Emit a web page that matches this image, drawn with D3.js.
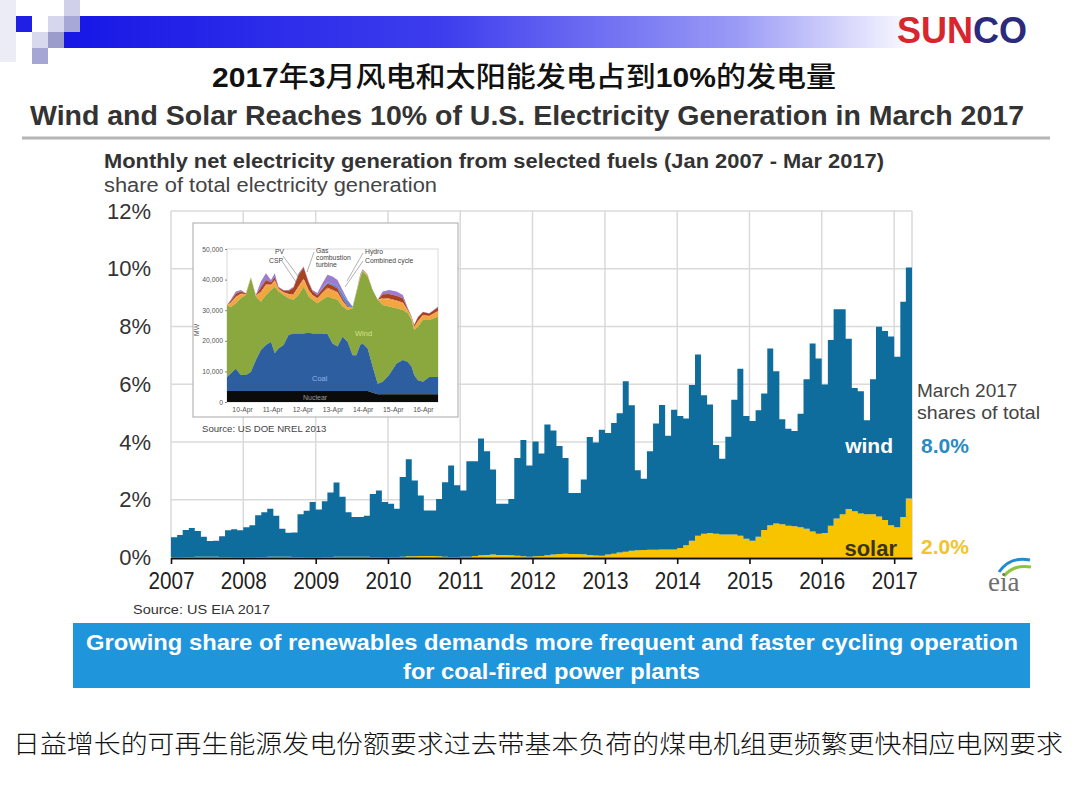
<!DOCTYPE html>
<html><head><meta charset="utf-8">
<script src="https://cdn.jsdelivr.net/npm/d3@7"></script>
<style>body{margin:0;background:#fff}svg{display:block}</style>
</head><body><svg id="c" width="1080" height="810"></svg>
<script>
// ---------------- main chart data (share of total generation, %) ----------------
const startYear = 2007;
const yearTicks = [2007,2008,2009,2010,2011,2012,2013,2014,2015,2016,2017];
const yTicks = [0,2,4,6,8,10,12];
// monthly wind share, Jan 2007 - Mar 2017
const windShare = [
 0.69,0.77,0.93,1.00,0.89,0.69,0.54,0.55,0.72,0.92,0.97,0.93,
 1.04,1.11,1.44,1.55,1.66,1.42,0.97,0.83,0.85,1.48,1.61,1.91,
 1.65,1.93,2.23,2.57,2.07,1.54,1.37,1.37,1.42,2.18,2.30,1.91,
 1.84,1.67,2.76,3.36,2.63,2.10,1.58,1.58,1.99,2.58,3.17,2.48,
 2.29,3.30,3.28,4.04,3.59,2.95,1.77,1.77,1.95,3.39,4.03,3.16,
 3.98,3.55,4.53,4.30,3.74,3.32,2.11,2.11,2.59,4.08,3.91,4.36,
 4.21,4.53,4.83,5.90,5.04,2.77,2.47,3.41,4.37,5.00,3.94,4.84,
 4.57,4.39,5.39,6.28,4.80,4.45,3.08,2.62,3.38,4.66,5.79,4.25,
 4.15,4.38,4.73,6.12,5.27,3.64,3.36,3.30,3.93,5.17,6.51,6.07,
 5.14,6.43,7.25,7.10,5.90,4.27,4.24,3.25,4.67,6.57,6.54,6.53,
 5.90,7.46,8.00];
// monthly solar share, Jan 2007 - Mar 2017
const solarShare = [
 0.01,0.01,0.02,0.02,0.03,0.03,0.03,0.03,0.02,0.02,0.01,0.01,
 0.01,0.01,0.02,0.02,0.03,0.03,0.03,0.03,0.02,0.02,0.01,0.01,
 0.01,0.02,0.02,0.03,0.03,0.03,0.03,0.03,0.03,0.02,0.02,0.01,
 0.02,0.02,0.03,0.04,0.04,0.05,0.05,0.05,0.04,0.03,0.02,0.02,
 0.03,0.03,0.05,0.08,0.09,0.10,0.09,0.09,0.08,0.06,0.04,0.03,
 0.04,0.05,0.08,0.10,0.12,0.13,0.12,0.12,0.11,0.09,0.07,0.06,
 0.10,0.13,0.17,0.20,0.23,0.25,0.26,0.27,0.27,0.28,0.28,0.28,
 0.33,0.42,0.58,0.75,0.82,0.85,0.82,0.80,0.80,0.80,0.75,0.65,
 0.58,0.72,0.95,1.12,1.18,1.15,1.10,1.08,1.05,1.00,0.90,0.82,
 0.85,1.10,1.35,1.50,1.68,1.60,1.52,1.50,1.50,1.42,1.30,1.12,
 1.05,1.40,2.04];
const marchLabels = {wind:"8.0%", solar:"2.0%"};

// ---------------- inset chart data (MW, thousands) ----------------
const insetDays = ["10-Apr","11-Apr","12-Apr","13-Apr","14-Apr","15-Apr","16-Apr"];
const insetYTicks = [0,10,20,30,40,50];
const insetHours = [0,3,7,11,15,19,23,27,31,35,38,41,45,49,53,57,61,65,68,72,76,80,84,88,92,96,100,103,106,108,112,116,120,124,129,135,140,144,147,149,152,156,161,168];
const insetNuclear = [3.6,3.6,3.6,3.6,3.6,3.6,3.6,3.6,3.6,3.6,3.6,3.6,3.6,3.6,3.6,3.6,3.6,3.6,3.6,3.6,3.6,3.6,3.6,3.6,3.6,3.6,3.6,3.6,3.6,3.6,3.6,3.0,2.5,2.5,2.5,2.5,2.5,2.5,2.5,2.5,2.5,2.5,2.5,2.5];
const insetCoalTop = [8.2,9.3,10.9,8.8,8.8,9.8,13.7,17.0,18.6,19.7,15.9,17.5,18.6,21.9,22.4,22.4,22.4,22.6,22.4,22.4,22.4,22.2,19.1,18.1,21.3,19.7,15.3,15.3,18.6,19.1,17.5,11.5,6.0,6.6,8.8,12.6,13.7,13.1,11.5,8.8,7.1,6.6,8.2,8.2];
const insetWindTop = [31.7,31.0,32.3,33.9,35.0,40.5,34.5,32.8,35.0,36.6,37.7,36.1,35.0,33.9,33.4,35.0,37.7,34.5,33.4,32.3,33.4,34.5,33.9,33.4,31.2,30.1,30.6,35.6,40.5,42.7,41.0,36.6,33.4,31.7,31.2,30.6,30.1,29.0,26.8,23.5,24.6,26.8,26.8,27.9];
const insetCsp = [0,1.2,1.8,1.3,0.3,0.2,0.3,2.8,3.0,1.5,1.8,0.8,0.8,1.2,1.6,2.4,2.2,1.8,1.4,1.4,2.0,2.4,2.4,2.2,1.6,0.8,0.2,0.2,0.5,0.3,0.3,0,0,2.0,2.3,2.3,2.1,0.8,0.6,0.9,1.6,1.4,1.2,1.6];
const insetPv = [0,0.2,0.3,0.2,0,0,0,0.4,0.4,0.2,0.3,0.1,0.1,0.2,0.3,0.4,0.4,0.3,0.2,0.2,0.3,0.4,0.4,0.3,0.2,0.1,0,0,0.1,0,0,0,0,0.3,0.3,0.3,0.3,0.1,0.1,0.1,0.2,0.2,0.1,0.2];
const insetGas = [0,0.6,1.0,0.7,0.2,0.1,0.2,1.4,1.5,0.8,1.0,0.4,0.5,1.0,2.0,3.8,3.6,2.4,1.2,1.0,1.2,1.4,1.4,1.2,0.8,0.4,0.1,0.1,0.2,0.2,0.2,0,0,1.2,1.5,1.5,1.4,0.5,0.4,0.7,1.2,1.0,0.8,1.2];
const insetHydro = [0,0,0,0,0,0,0,0,0,0,0,0,0,0,0,0,0,0,0,0,0.2,0.4,0.5,0.8,1.6,1.6,0.3,0.2,0,0,0,0,0,0,0,0,0,0,0,0,0,0,0,0];
const insetCc = [0,0.4,0.7,0.5,0,0,0,2.0,2.2,0.8,1.3,0.3,0.2,0.3,0.4,0.5,0.4,0.4,0.4,0.7,1.7,2.5,2.4,2.0,1.2,0.4,0,0,0.3,0.2,0.1,0,0,0.9,1.3,1.4,1.1,0.2,0,0,0.3,0.1,0.1,0.3];

// ---------------- drawing ----------------
const svg = d3.select("#c");
const defs = svg.append("defs");
const grad = defs.append("linearGradient").attr("id","hdr").attr("x1","0").attr("x2","1").attr("y1","0").attr("y2","0");
[[0,"#1717e6"],[0.45,"#3d3dee"],[0.8,"#9a9af6"],[1,"#f6f6ff"]].forEach(s=>grad.append("stop").attr("offset",s[0]).attr("stop-color",s[1]));

// header decoration
svg.append("rect").attr("x",64).attr("y",16).attr("width",840).attr("height",32).attr("fill","url(#hdr)");
const deco = [[0,0,16,62,"#ececf6"],[16,16,16,16,"#1f1fe6"],[48,16,16,16,"#d6d6ee"],[64,0,16,16,"#d0d0ea"],[64,16,16,16,"#a8a8d8"],[32,32,16,16,"#d8d8ee"],[48,32,16,16,"#9c9ccc"],[32,48,16,16,"#a6a6d4"]];
svg.selectAll("rect.deco").data(deco).enter().append("rect").attr("class","deco")
  .attr("x",d=>d[0]).attr("y",d=>d[1]).attr("width",d=>d[2]).attr("height",d=>d[3]).attr("fill",d=>d[4]);

// SUNCO logo
const logo = svg.append("text").attr("x",897).attr("y",43).attr("font-family","Liberation Sans, Arial, sans-serif")
  .attr("font-weight","bold").attr("font-size",36).attr("textLength",130).attr("lengthAdjust","spacingAndGlyphs");
logo.append("tspan").attr("fill","#d7262d").text("SUN");
logo.append("tspan").attr("fill","#2b2a7c").text("CO");

// titles
const t1 = svg.append("text").attr("x",212).attr("y",87).attr("font-size",28).attr("fill","#111")
  .attr("textLength",624).attr("lengthAdjust","spacingAndGlyphs");
const cjk = "'Noto Sans CJK SC', sans-serif", lat = "'Liberation Sans', Arial, sans-serif";
[["2017",lat,700],["年",cjk,500],["3",lat,700],["月风电和太阳能发电占到",cjk,500],["10%",lat,700],["的发电量",cjk,500]]
  .forEach(p=>t1.append("tspan").attr("font-family",p[1]).attr("font-weight",p[2]).text(p[0]));
svg.append("text").attr("x",30).attr("y",125).attr("font-family",lat).attr("font-weight","bold").attr("font-size",28.5)
  .attr("fill","#333").attr("textLength",994).attr("lengthAdjust","spacingAndGlyphs")
  .text("Wind and Solar Reaches 10% of U.S. Electricity Generation in March 2017");
svg.append("line").attr("x1",22).attr("x2",1050).attr("y1",138).attr("y2",138).attr("stroke","#b5b5b5").attr("stroke-width",3);

svg.append("text").attr("x",104).attr("y",168).attr("font-family",lat).attr("font-weight","bold").attr("font-size",19.5)
  .attr("fill","#333").attr("textLength",780).attr("lengthAdjust","spacingAndGlyphs")
  .text("Monthly net electricity generation from selected fuels (Jan 2007 - Mar 2017)");
svg.append("text").attr("x",104).attr("y",192).attr("font-family",lat).attr("font-size",19.5)
  .attr("fill","#444").attr("textLength",333).attr("lengthAdjust","spacingAndGlyphs")
  .text("share of total electricity generation");

// scales
const x = d3.scaleUtc().domain([Date.UTC(2007,0,1), Date.UTC(2017,3,1)]).range([171, 912]);
const y = d3.scaleLinear().domain([0,12]).range([557.5, 211]);
const yearDates = yearTicks.map(yr=>new Date(Date.UTC(yr,0,1)));

// gridlines
const grid = svg.append("g").attr("stroke","#dadada").attr("stroke-width",1.5);
grid.selectAll("line.h").data(yTicks.filter(v=>v>0)).enter().append("line")
  .attr("x1",x.range()[0]).attr("x2",x.range()[1]).attr("y1",d=>y(d)).attr("y2",d=>y(d));
grid.selectAll("line.v").data(yearDates).enter().append("line")
  .attr("x1",d=>x(d)).attr("x2",d=>x(d)).attr("y1",y(12)).attr("y2",y(0));
grid.append("line").attr("x1",x.range()[1]).attr("x2",x.range()[1]).attr("y1",y(12)).attr("y2",y(0));

// stacked step areas
const rows = windShare.map((w,i)=>({date:new Date(Date.UTC(startYear, i, 1)), solar:solarShare[i], wind:w}));
rows.push({date:new Date(Date.UTC(startYear, windShare.length, 1)), solar:solarShare[solarShare.length-1], wind:windShare[windShare.length-1]});
const stack = d3.stack().keys(["solar","wind"])(rows);
const area = d3.area().curve(d3.curveStepAfter).x(d=>x(d.data.date)).y0(d=>y(d[0])).y1(d=>y(d[1]));
const colors = {wind:"#0f6d9e", solar:"#f8c400"};
svg.append("g").selectAll("path").data(stack).enter().append("path")
  .attr("d",area).attr("fill",d=>colors[d.key]);

// axes
const xAxis = svg.append("g").attr("transform","translate(0,558)")
  .call(d3.axisBottom(x).tickValues(yearDates).tickFormat(d3.utcFormat("%Y")).tickSize(6).tickSizeOuter(0).tickPadding(9));
xAxis.select(".domain").attr("stroke","#111").attr("stroke-width",2);
xAxis.selectAll(".tick line").attr("stroke","#111").attr("stroke-width",1.6);
xAxis.selectAll(".tick text").attr("font-family",lat).attr("font-size",23).attr("fill","#222")
  .attr("textLength",46).attr("lengthAdjust","spacingAndGlyphs");

const yAxis = svg.append("g").attr("transform","translate(151,0)")
  .call(d3.axisLeft(y).tickValues(yTicks).tickFormat(d=>d+"%").tickSize(0).tickPadding(0));
yAxis.select(".domain").remove();
yAxis.selectAll(".tick text").attr("font-family",lat).attr("font-size",22).attr("fill","#333");

// in-chart labels
svg.append("text").attr("x",893).attr("y",453).attr("text-anchor","end").attr("font-family",lat).attr("font-weight","bold")
  .attr("font-size",21).attr("fill","#fff").text("wind");
svg.append("text").attr("x",897).attr("y",556).attr("text-anchor","end").attr("font-family",lat).attr("font-weight","bold")
  .attr("font-size",22).attr("fill","#3b3410").text("solar");
svg.append("text").attr("x",917).attr("y",397).attr("font-family",lat).attr("font-size",19).attr("fill","#444").text("March 2017");
svg.append("text").attr("x",917).attr("y",419).attr("font-family",lat).attr("font-size",19).attr("fill","#444")
  .attr("textLength",123).attr("lengthAdjust","spacingAndGlyphs").text("shares of total");
svg.append("text").attr("x",921).attr("y",453).attr("font-family",lat).attr("font-weight","bold").attr("font-size",21)
  .attr("fill","#2c8ac2").text(marchLabels.wind);
svg.append("text").attr("x",921).attr("y",554).attr("font-family",lat).attr("font-weight","bold").attr("font-size",21)
  .attr("fill","#f2c42b").text(marchLabels.solar);

// eia logo
const eia = svg.append("g");
eia.append("path").attr("d","M999,572 Q1010,556 1030,560").attr("fill","none").attr("stroke","#1e8ecf").attr("stroke-width",3);
eia.append("path").attr("d","M1004,576 Q1014,564 1031,567").attr("fill","none").attr("stroke","#8cc63f").attr("stroke-width",3);
eia.append("text").attr("x",988).attr("y",591).attr("font-family","'Liberation Serif', serif").attr("font-size",27)
  .attr("fill","#6f6f6f").text("eia");

svg.append("text").attr("x",133).attr("y",614).attr("font-family",lat).attr("font-size",13).attr("fill","#333")
  .attr("textLength",137).attr("lengthAdjust","spacingAndGlyphs").text("Source: US EIA  2017");

// ---------------- inset ----------------
const ins = svg.append("g");
ins.append("rect").attr("x",193).attr("y",223).attr("width",265).attr("height",194).attr("fill","#fff").attr("stroke","#a8a8a8").attr("stroke-width",1);
const xi = d3.scaleLinear().domain([0,168]).range([227,438]);
const yi = d3.scaleLinear().domain([0,50]).range([402,249]);
ins.append("rect").attr("x",227).attr("y",249).attr("width",211).attr("height",153).attr("fill","none").attr("stroke","#cfcfcf").attr("stroke-width",0.8);
const irows = insetHours.map((h,i)=>({h, nuc:insetNuclear[i], coal:insetCoalTop[i], wind:insetWindTop[i],
  csp:insetCsp[i], pv:insetPv[i], gas:insetGas[i], hydro:insetHydro[i], cc:insetCc[i]}));
const iarea = (f0,f1)=>d3.area().x(d=>xi(d.h)).y0(d=>yi(f0(d))).y1(d=>yi(f1(d)));
const extraKeys = ["csp","pv","gas","hydro","cc"];
const extraCol = {csp:"#f3a53e", pv:"#e4794a", gas:"#a8431f", hydro:"#5b86d6", cc:"#9b7ccf"};
// cumulative stacking on top of wind
irows.forEach(r=>{let b=r.wind; extraKeys.forEach(k=>{r[k+"0"]=b; b+=r[k]; r[k+"1"]=b;});});
extraKeys.slice().reverse().forEach(k=>{
  ins.append("path").datum(irows).attr("fill",extraCol[k]).attr("d",iarea(d=>d[k+"0"],d=>d[k+"1"]));
});
ins.append("path").datum(irows).attr("fill","#8aa83e").attr("d",iarea(d=>d.coal,d=>d.wind));
ins.append("path").datum(irows).attr("fill","#2d5e9f").attr("d",iarea(d=>d.nuc,d=>d.coal));
ins.append("path").datum(irows).attr("fill","#0b0b0b").attr("d",iarea(d=>0,d=>d.nuc));

const iy = ins.append("g").attr("transform","translate(227,0)")
  .call(d3.axisLeft(yi).tickValues(insetYTicks).tickFormat(d=>d3.format(",")(d*1000)).tickSize(2).tickPadding(2));
iy.select(".domain").remove();
iy.selectAll(".tick line").attr("stroke","#888");
iy.selectAll(".tick text").attr("font-family",lat).attr("font-size",6.8).attr("fill","#555");
const ix = ins.append("g").attr("transform","translate(0,403)")
  .call(d3.axisBottom(xi).tickValues(insetDays.map((d,i)=>12+24*i)).tickFormat((d,i)=>insetDays[i]).tickSize(0).tickPadding(4));
ix.select(".domain").remove();
ix.selectAll(".tick text").attr("font-family",lat).attr("font-size",6.8).attr("fill","#555");
ins.append("text").attr("transform","translate(199,330) rotate(-90)").attr("text-anchor","middle")
  .attr("font-family",lat).attr("font-size",6.8).attr("fill","#555").text("MW");

const lab = (tx,ty,s,c,sz)=>ins.append("text").attr("x",tx).attr("y",ty).attr("font-family",lat).attr("font-size",sz||6.8).attr("fill",c||"#444").text(s);
lab(275,254,"PV"); lab(269,263,"CSP"); lab(316,253,"Gas"); lab(316,260,"combustion"); lab(316,267,"turbine");
lab(365,254,"Hydro"); lab(365,263,"Combined cycle");
lab(355,336,"Wind","#cfe08a",7.5); lab(312,381,"Coal","#8db4e8",7.5); lab(303,400,"Nuclear","#9a9a9a",7);
const lead = [[283,256,300,279],[282,261,296,282],[314,252,307,272],[363,253,347,281],[363,261,345,287]];
ins.selectAll("line.lead").data(lead).enter().append("line").attr("x1",d=>d[0]).attr("y1",d=>d[1]).attr("x2",d=>d[2]).attr("y2",d=>d[3])
  .attr("stroke","#666").attr("stroke-width",0.5);
ins.append("text").attr("x",202).attr("y",432).attr("font-family",lat).attr("font-size",9.6).attr("fill","#444").text("Source: US DOE NREL 2013");

// ---------------- banner & footer ----------------
svg.append("rect").attr("x",73).attr("y",623).attr("width",957).attr("height",65).attr("fill","#1f95dc");
svg.append("text").attr("x",86).attr("y",650).attr("font-family",lat).attr("font-weight","bold").attr("font-size",22.5)
  .attr("fill","#fff").attr("textLength",932).attr("lengthAdjust","spacingAndGlyphs")
  .text("Growing share of renewables demands more frequent and faster cycling operation");
svg.append("text").attr("x",403).attr("y",679).attr("font-family",lat).attr("font-weight","bold").attr("font-size",22.5)
  .attr("fill","#fff").attr("textLength",297).attr("lengthAdjust","spacingAndGlyphs")
  .text("for coal-fired power plants");
svg.append("text").attr("x",13).attr("y",753).attr("font-family",cjk).attr("font-weight",300).attr("font-size",25.5)
  .attr("fill","#111").attr("textLength",1050).attr("lengthAdjust","spacingAndGlyphs")
  .text("日益增长的可再生能源发电份额要求过去带基本负荷的煤电机组更频繁更快相应电网要求");
</script></body></html>
